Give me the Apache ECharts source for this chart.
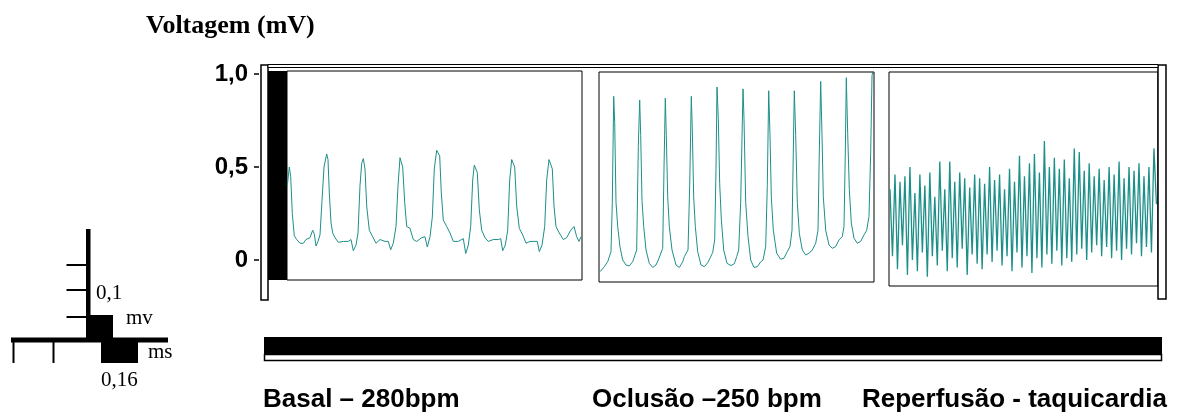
<!DOCTYPE html>
<html>
<head>
<meta charset="utf-8">
<script src="https://cdn.jsdelivr.net/npm/echarts@6/dist/echarts.min.js"></script>
<style>
html, body { margin: 0; padding: 0; background: #fff; }
#main { width: 1185px; height: 414px; }
</style>
</head>
<body>
<div id="main"></div>
<script>
// ECG em três fases: [tempo (amostra), voltagem mV]
var basal = [
    [0.3,0.40],[2.3,0.50],[3.7,0.45],[5.3,0.25],[7.3,0.13],[9.7,0.11],[13,0.09],[16.3,0.09],[19,0.11],[23,0.12],[25.7,0.16],[27.3,0.14],[29,0.075],[31,0.10],[33,0.135],
    [35,0.32],[37,0.50],[39.7,0.57],[41,0.54],[42.3,0.36],[44,0.20],[45.7,0.145],[48,0.12],[51.3,0.095],[56.3,0.10],[61.3,0.10],[64,0.11],[66.3,0.05],[69,0.08],[71,0.145],
    [73,0.40],[74.7,0.52],[76.3,0.545],[78,0.49],[79.7,0.29],[82.3,0.16],[85.7,0.125],[89,0.09],[93,0.11],[98,0.10],[101.3,0.10],[103.7,0.055],[106.3,0.09],[109,0.18],
    [111,0.40],[113,0.55],[114,0.56],[115.7,0.50],[117.7,0.31],[119.7,0.18],[123,0.17],[126.3,0.11],[129.7,0.10],[134.7,0.12],[138,0.125],[140.3,0.07],[143,0.125],[145.3,0.23],
    [147.3,0.49],[149.7,0.59],[151,0.60],[152.7,0.56],[154.3,0.36],[156.3,0.215],[159.7,0.18],[163,0.145],[166.3,0.10],[171.3,0.10],[176.3,0.115],[178.7,0.035],[181.3,0.08],[183.7,0.18],
    [185.7,0.43],[187.3,0.51],[188.7,0.52],[190.3,0.47],[192.3,0.27],[194.7,0.16],[198,0.12],[201.3,0.10],[206.3,0.11],[211.3,0.11],[213.7,0.115],[215.7,0.05],[218.3,0.08],[220.7,0.16],
    [222.7,0.43],[224.7,0.54],[226,0.55],[227.7,0.50],[229.7,0.29],[232.3,0.17],[235.7,0.135],[239,0.09],[243,0.10],[248,0.10],[250.3,0.10],[252.3,0.045],[255,0.08],[257.7,0.18],
    [259.7,0.43],[262,0.54],[263.7,0.55],[265.3,0.49],[267,0.29],[269,0.18],[272.3,0.145],[276.3,0.11],[279.7,0.12],[283.7,0.16],[287,0.18],[289.7,0.125],[292,0.10],[294,0.125]
];

var oclusao = [
    [1,-0.063],[5.3,-0.036],[8.7,-0.009],[10.3,-0.018],[12,0.045],[13.3,0.31],[14.7,0.88],[15.7,0.74],[17,0.31],[18.7,0.18],[21,0.07],[23.7,0],[27,-0.027],[30.3,-0.032],[33.7,-0.009],[35.3,-0.018],[37.7,0.054],
    [39.3,0.61],[40.7,0.86],[41.7,0.67],[43,0.32],[44.7,0.18],[47,0.054],[50.3,-0.018],[53.7,-0.04],[57,-0.027],[59.3,0],[61,-0.01],[63.7,0.063],
    [65,0.49],[66.3,0.87],[67.3,0.67],[68.7,0.34],[70.3,0.18],[73,0.054],[77,-0.027],[80.3,-0.04],[83.7,-0.01],[85.3,0.018],[87,0.01],[89,0.054],
    [90.7,0.40],[92.3,0.88],[93.3,0.70],[94.7,0.34],[96.3,0.18],[98.7,0.045],[102,-0.027],[105.3,-0.036],[108.7,-0.015],[111,0.01],[113.7,0.04],[115.7,0.108],
    [117,0.49],[118,0.93],[119.3,0.76],[120.7,0.41],[122.3,0.22],[124.7,0.054],[128,-0.018],[132,-0.03],[135.3,-0.02],[137.7,0.018],[139.7,0.054],
    [141.7,0.31],[144,0.92],[145,0.76],[146.7,0.31],[149,0.126],[151.7,0],[155,-0.04],[158.3,-0.036],[161.7,-0.01],[164,0],[166.7,0.072],
    [168.3,0.40],[169.7,0.91],[171,0.67],[172.3,0.34],[174.3,0.16],[177.7,0.036],[181.7,0.004],[185,0.01],[188.3,0.045],[191,0.072],[193,0.16],
    [194.3,0.58],[195.3,0.91],[196.7,0.67],[198.3,0.31],[200.3,0.144],[203.3,0.054],[206.7,0.027],[210,0.036],[213.3,0.054],[216.7,0.09],[219,0.16],
    [220.3,0.58],[221.7,0.96],[223,0.67],[224.3,0.34],[226.7,0.16],[230,0.081],[233.3,0.063],[236.7,0.072],[240,0.108],[243.3,0.126],[245,0.18],
    [246.3,0.58],[247.3,0.98],[248.7,0.68],[250.3,0.38],[252.3,0.20],[255,0.117],[258.3,0.09],[261.7,0.10],[265,0.135],[267.7,0.16],[270,0.234],
    [271.7,0.58],[273,0.99],[273.7,1.01]
];

// reperfusão: amostras com passo constante
var reperfusaoInicio = 1;
var reperfusaoPasso = 2.49;
var reperfusao = [
    0.38,0.02, 0.46,-0.05, 0.42,0.08, 0.45,-0.08, 0.50,0.00, 0.36,-0.06, 0.46,0.04, 0.40,-0.09, 0.47,0.02, 0.34,-0.03,
    0.53,0.05, 0.38,-0.06, 0.53,0.01, 0.42,-0.04, 0.47,0.06, 0.44,-0.08, 0.39,0.03, 0.46,-0.02, 0.44,-0.05, 0.41,0.03,
    0.50,-0.01, 0.43,0.05, 0.46,-0.03, 0.38,0.02, 0.49,-0.06, 0.42,0.04, 0.56,-0.04, 0.45,0.02, 0.52,-0.07, 0.57,0.01,
    0.47,-0.04, 0.64,0.03, 0.50,-0.02, 0.55,0.05, 0.49,-0.03, 0.54,0.01, 0.44,-0.01, 0.60,0.03, 0.58,0.06, 0.48,0.00,
    0.52,0.04, 0.45,0.08, 0.49,0.02, 0.43,0.07, 0.50,0.01, 0.46,0.05, 0.53,0.00, 0.44,0.06, 0.50,0.03, 0.48,0.09,
    0.52,0.02, 0.45,0.07, 0.50,0.04, 0.60,0.30
];

var yTicks = [0, 0.5, 1.0];
var yTickLabels = ['0', '0,5', '1,0'];
var fases = ['Basal \u2013 280bpm', 'Oclus\u00e3o \u2013250 bpm', 'Reperfus\u00e3o - taquicardia'];

var myChart = echarts.init(document.getElementById('main'));

var corTraco = '#1d8f89';
var y0 = 260, pxPorMv = 186; // 0 mV na altura 260, 1 mV = 186 px

// cada painel com a mesma escala vertical
function faixa(top, height) {
    return { min: (y0 - (top + height)) / pxPorMv, max: (y0 - top) / pxPorMv };
}
var paineis = [
    { left: 287, top: 71, width: 295, height: 209, xmax: 295, largura: 1 },
    { left: 599, top: 72, width: 275, height: 210, xmax: 275, largura: 1 },
    { left: 889, top: 72, width: 269, height: 214, xmax: 269, largura: 1.3 }
];

var reperfusaoXY = reperfusao.map(function (v, i) {
    return [reperfusaoInicio + i * reperfusaoPasso, v];
});
var dados = [basal, oclusao, reperfusaoXY];

var grids = [{ left: 259, top: 74, width: 1, height: 186, show: false }];
var xAxes = [{ gridIndex: 0, type: 'value', show: false, min: 0, max: 1 }];
var yAxes = [{
    gridIndex: 0,
    type: 'value',
    min: 0,
    max: 1,
    interval: 0.5,
    axisLine: { show: false },
    axisTick: { show: true, length: 5, lineStyle: { color: '#000', width: 1.5 } },
    splitLine: { show: false },
    axisLabel: {
        margin: 11,
        color: '#000',
        fontFamily: 'Liberation Sans',
        fontWeight: 'bold',
        fontSize: 24,
        formatter: function (v) {
            var i = yTicks.indexOf(v);
            return i >= 0 ? yTickLabels[i] : '';
        }
    }
}];
var series = [];

paineis.forEach(function (p, i) {
    var r = faixa(p.top, p.height);
    grids.push({
        left: p.left, top: p.top, width: p.width, height: p.height,
        show: true, borderColor: '#000', borderWidth: 1, backgroundColor: 'transparent'
    });
    xAxes.push({ gridIndex: i + 1, type: 'value', show: false, min: 0, max: p.xmax });
    yAxes.push({ gridIndex: i + 1, type: 'value', show: false, min: r.min, max: r.max });
    series.push({
        type: 'line',
        xAxisIndex: i + 1,
        yAxisIndex: i + 1,
        data: dados[i],
        showSymbol: false,
        symbol: 'none',
        clip: true,
        lineStyle: { color: corTraco, width: p.largura },
        animation: false
    });
});

var serif = '21px "Liberation Serif"';
var negrito = 'bold 26px "Liberation Sans"';

var graficos = [
    // moldura
    { type: 'rect', shape: { x: 261, y: 65, width: 7, height: 235 }, style: { fill: '#fff', stroke: '#000', lineWidth: 1.5 } },
    { type: 'rect', shape: { x: 1158, y: 65, width: 8, height: 234 }, style: { fill: '#fff', stroke: '#000', lineWidth: 1.5 } },
    { type: 'rect', shape: { x: 268, y: 64.5, width: 890, height: 3 }, style: { fill: '#fff', stroke: '#000', lineWidth: 1 } },
    { type: 'rect', shape: { x: 268, y: 71, width: 19, height: 209 }, style: { fill: '#000' } },
    // barra inferior
    { type: 'rect', shape: { x: 264, y: 337, width: 898, height: 17 }, style: { fill: '#000' } },
    { type: 'rect', shape: { x: 264.5, y: 354.5, width: 897, height: 6 }, style: { fill: '#fff', stroke: '#000', lineWidth: 1.5 } },
    // escala de calibração
    { type: 'rect', shape: { x: 86, y: 229, width: 4.5, height: 109 }, style: { fill: '#000' } },
    { type: 'line', shape: { x1: 66.5, y1: 265, x2: 86, y2: 265 }, style: { stroke: '#000', lineWidth: 2 } },
    { type: 'line', shape: { x1: 66.5, y1: 290, x2: 86, y2: 290 }, style: { stroke: '#000', lineWidth: 2 } },
    { type: 'line', shape: { x1: 66.5, y1: 317, x2: 86, y2: 317 }, style: { stroke: '#000', lineWidth: 2 } },
    { type: 'rect', shape: { x: 86, y: 315, width: 27, height: 23 }, style: { fill: '#000' } },
    { type: 'rect', shape: { x: 11, y: 337.5, width: 157, height: 5 }, style: { fill: '#000' } },
    { type: 'line', shape: { x1: 13.5, y1: 342, x2: 13.5, y2: 363 }, style: { stroke: '#000', lineWidth: 2 } },
    { type: 'line', shape: { x1: 53.5, y1: 342, x2: 53.5, y2: 363 }, style: { stroke: '#000', lineWidth: 2 } },
    { type: 'rect', shape: { x: 101, y: 342, width: 37, height: 21 }, style: { fill: '#000' } },
    { type: 'text', x: 96, y: 293, style: { text: '0,1', font: serif, fill: '#000', verticalAlign: 'middle' } },
    { type: 'text', x: 126, y: 318, style: { text: 'mv', font: serif, fill: '#000', verticalAlign: 'middle' } },
    { type: 'text', x: 148, y: 352, style: { text: 'ms', font: serif, fill: '#000', verticalAlign: 'middle' } },
    { type: 'text', x: 101, y: 380, style: { text: '0,16', font: serif, fill: '#000', verticalAlign: 'middle' } },
    // título
    { type: 'text', x: 146, y: 26, style: { text: 'Voltagem (mV)', font: 'bold 26px "Liberation Serif"', fill: '#000', verticalAlign: 'middle' } },
    // fases
    { type: 'text', x: 263, y: 400, style: { text: fases[0], font: negrito, fill: '#000', verticalAlign: 'middle' } },
    { type: 'text', x: 592, y: 400, style: { text: fases[1], font: negrito, fill: '#000', verticalAlign: 'middle' } },
    { type: 'text', x: 862, y: 400, style: { text: fases[2], font: negrito, fill: '#000', verticalAlign: 'middle' } }
];

var option = {
    backgroundColor: '#fff',
    animation: false,
    grid: grids,
    xAxis: xAxes,
    yAxis: yAxes,
    series: series,
    graphic: { elements: graficos }
};

myChart.setOption(option);
</script>
</body>
</html>
